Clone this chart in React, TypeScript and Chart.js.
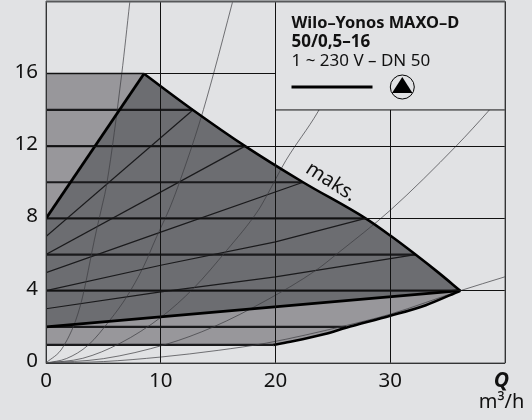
import React, { useEffect, useRef } from "react";
import { Chart, registerables } from "chart.js";

Chart.register(...registerables);

const BG = "#e1e2e4";
const DARK = "#6c6d71";
const LIGHT = "#98979b";
const FONT = '"Noto Sans", sans-serif';

type P = { x: number; y: number };
const pts = (a: number[][]): P[] => a.map(([x, y]) => ({ x, y }));

const outerRegion = [[0, 16], [8.54, 16], [12.8, 14], [17.35, 12], [22.4, 10], [27.85, 8], [32.2, 6], [36.1, 4], [33.1, 3.2], [30, 2.61], [26.15, 1.95], [24.3, 1.6], [21.5, 1.2], [19.8, 1], [0, 1]];
const maxCurve = [[8.54, 16], [12.8, 14], [17.35, 12], [22.4, 10], [27.85, 8], [30, 7.05], [32.2, 6], [34.2, 5], [36.1, 4]];
const lowerCurve = [[19.8, 1], [21.5, 1.2], [24.3, 1.6], [26.15, 1.95], [30, 2.61], [33.1, 3.2], [36.1, 4]];
const darkRegion = [[0, 8], [8.54, 16], [12.8, 14], [17.35, 12], [22.4, 10], [27.85, 8], [30, 7.05], [32.2, 6], [34.2, 5], [36.1, 4], [0, 2]];
const minLine = [[0, 2], [36.1, 4]];
const topLine = [[0, 8], [8.54, 16]];

const controlLines = [
  [[0, 3], [10, 3.93], [20, 4.77], [32.2, 6]],
  [[0, 4], [10, 5.41], [20, 6.7], [27.85, 8]],
  [[0, 5], [10, 7.24], [22.4, 10]],
  [[0, 6], [17.35, 12]],
  [[0, 7], [12.8, 14]],
];
const bandLines = [
  [[0, 1], [19.8, 1]],
  [[0, 2], [26.15, 2]],
  [[0, 4], [36.1, 4]],
  [[0, 6], [32.2, 6]],
  [[0, 8], [27.85, 8]],
  [[0, 10], [22.4, 10]],
  [[0, 12], [17.35, 12]],
  [[0, 14], [12.8, 14]],
];
const systemCurves = [
  [[0, 0], [1.5, 0.9], [2.96, 3.1], [4.4, 7.35], [4.8, 8.45], [5.3, 9.93], [6.6, 16], [7.3, 19.96]],
  [[0, 0], [1.8, 0.25], [3.7, 1], [5.58, 2.38], [7.03, 3.66], [8.49, 5.32], [9.65, 7.0], [10.8, 8.6], [11.69, 10.1], [13.43, 13.4], [14.6, 16], [16.25, 19.96]],
  [[0, 0], [3.2, 0.26], [6.45, 1.09], [10.08, 2.56], [12.85, 4.13], [15.76, 6.24], [18.5, 8.45], [19.18, 9.19], [20.9, 11.2], [23.7, 13.9], [25.6, 16.2]],
  [[0, 0], [5, 0.24], [10.5, 1.04], [14.6, 2], [19.18, 3.46], [23.55, 5.14], [25.4, 6.06], [30, 8.45], [35.8, 12.04], [38.5, 13.9], [40, 15]],
  [[0, 0], [5, 0.08], [10, 0.33], [15, 0.7], [19.2, 1.1], [26, 2.05], [30, 2.7], [36.1, 4], [40, 4.77]],
];
const xTicks = [0, 10, 20, 30, 40];
const yTicks = [0, 4, 8, 12, 16, 20];
const legendTitle = ["Wilo–Yonos MAXO–D", "50/0,5–16"];
const legendSub = "1 ~ 230 V – DN 50";

const overlay = {
  id: "overlay",
  afterDraw(chart: any) {
    const { ctx, scales, chartArea: a } = chart;
    const X = (v: number) => scales.x.getPixelForValue(v);
    const Y = (v: number) => scales.y.getPixelForValue(v);
    ctx.save();
    const bx = X(20), by = Y(14);
    ctx.fillStyle = BG;
    ctx.fillRect(bx, a.top, a.right - bx, by - a.top);
    ctx.strokeStyle = "#111";
    ctx.lineWidth = 1;
    ctx.beginPath();
    ctx.moveTo(bx, a.top);
    ctx.lineTo(bx, by);
    ctx.lineTo(a.right, by);
    ctx.stroke();
    ctx.strokeStyle = "#57585a";
    ctx.lineWidth = 1;
    ctx.strokeRect(a.left, a.top, a.right - a.left, a.bottom - a.top);
    ctx.lineWidth = 2;
    ctx.beginPath();
    ctx.moveTo(a.left, a.top);
    ctx.lineTo(a.right, a.top);
    ctx.stroke();
    ctx.fillStyle = "#111";
    ctx.textAlign = "left";
    ctx.textBaseline = "alphabetic";
    ctx.font = `bold 16.4px ${FONT}`;
    ctx.fillText(legendTitle[0], 291.5, 28);
    ctx.font = `bold 17px ${FONT}`;
    ctx.fillText(legendTitle[1], 291.5, 46.5);
    ctx.font = `17px ${FONT}`;
    ctx.fillText(legendSub, 291.5, 66);
    ctx.strokeStyle = "#000";
    ctx.lineWidth = 3;
    ctx.beginPath();
    ctx.moveTo(291.5, 87);
    ctx.lineTo(372.5, 87);
    ctx.stroke();
    ctx.lineWidth = 1;
    ctx.beginPath();
    ctx.arc(402.3, 87, 12, 0, Math.PI * 2);
    ctx.stroke();
    ctx.fillStyle = "#000";
    ctx.beginPath();
    ctx.moveTo(402.3, 77);
    ctx.lineTo(412.5, 93);
    ctx.lineTo(392, 93);
    ctx.closePath();
    ctx.fill();
    ctx.save();
    ctx.translate(331, 182);
    ctx.rotate((33 * Math.PI) / 180);
    ctx.fillStyle = "#111";
    ctx.textAlign = "center";
    ctx.textBaseline = "middle";
    ctx.font = `20px ${FONT}`;
    ctx.fillText("maks.", 0, 0);
    ctx.restore();
    ctx.fillStyle = "#111";
    ctx.textAlign = "center";
    ctx.font = `italic bold 21px ${FONT}`;
    ctx.fillText("Q", 501.5, 386.5);
    ctx.font = `20px ${FONT}`;
    ctx.fillText("m³/h", 501.5, 408);
    ctx.restore();
  },
};

const line = (data: number[][], color: string, width: number, extra: any = {}) => ({
  data: pts(data),
  borderColor: color,
  backgroundColor: "transparent",
  borderWidth: width,
  pointRadius: 0,
  tension: 0,
  showLine: true,
  fill: false,
  ...extra,
});
const smooth = { cubicInterpolationMode: "monotone" };

export default function App() {
  const ref = useRef<HTMLCanvasElement>(null);
  useEffect(() => {
    document.body.style.margin = "0";
    document.body.style.background = BG;
    const layers = [
      line(outerRegion, LIGHT, 0, { fill: "shape", backgroundColor: LIGHT }),
      line([[0, 16], [8.54, 16]], "#77777a", 2.5),
      ...bandLines.slice(0, 2).map((d) => line(d, "#1a1a1c", 2.2)),
      line(darkRegion, DARK, 0, { fill: "shape", backgroundColor: DARK }),
      ...bandLines.slice(2).map((d) => line(d, "#1a1a1c", 2.2)),
      ...controlLines.map((d) => line(d, "#1a1a1c", 1.2)),
      ...systemCurves.map((d) => line(d, "#3c3c40", 0.7, smooth)),
      line(maxCurve, "#000", 2.6, smooth),
      line(lowerCurve, "#000", 2.6, smooth),
      line(minLine, "#000", 2.8),
      line(topLine, "#000", 2.8),
    ];
    const n = layers.length;
    layers.forEach((d: any, i: number) => (d.order = n - i));
    const noPad = (s: any) => { s.paddingTop = 0; s.paddingBottom = 0; s.paddingLeft = 0; s.paddingRight = 0; };
    const chart = new Chart(ref.current!, {
      type: "scatter",
      data: { datasets: layers as any },
      plugins: [overlay],
      options: {
        animation: false,
        responsive: false,
        devicePixelRatio: 1,
        layout: { padding: { top: 1.5, right: 27, left: 0, bottom: 0 } },
        plugins: { legend: { display: false }, tooltip: { enabled: false } },
        scales: {
          x: {
            type: "linear",
            min: 0,
            max: 40,
            afterBuildTicks: (s: any) => { s.ticks = xTicks.map((value) => ({ value })); },
            afterFit: (s: any) => { s.height = 57; noPad(s); },
            border: { display: false },
            grid: { color: "#111", lineWidth: 1, z: 1, drawTicks: false },
            ticks: {
              font: { family: "Noto Sans", size: 20.5 },
              color: "#111",
              padding: 6,
              maxRotation: 0,
              autoSkip: false,
              callback: (v: any) => (v === 40 ? "" : String(v)),
            },
          },
          y: {
            type: "linear",
            min: 0,
            max: 20,
            afterBuildTicks: (s: any) => { s.ticks = yTicks.map((value) => ({ value })); },
            afterFit: (s: any) => { s.width = 46; noPad(s); },
            border: { display: false },
            grid: { color: "#111", lineWidth: 1, z: 1, drawTicks: false },
            ticks: {
              font: { family: "Noto Sans", size: 20.5 },
              color: "#111",
              padding: 8,
              labelOffset: -2,
              autoSkip: false,
              callback: (v: any) => (v === 20 ? "" : String(v)),
            },
          },
        },
      } as any,
    });
    return () => chart.destroy();
  }, []);
  return (
    <div style={{ position: "fixed", left: 0, top: 0, width: 532, height: 420, background: BG }}>
      <canvas ref={ref} width={532} height={420} style={{ display: "block" }} />
    </div>
  );
}
